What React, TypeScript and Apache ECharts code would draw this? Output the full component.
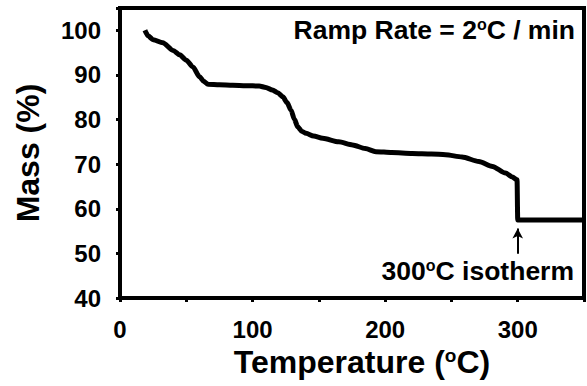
import React, { useEffect, useRef } from "react";
import * as echarts from "echarts";

const temperature = [18.8, 21.3, 25, 32.3, 40, 45, 50, 55, 60, 63, 66.4, 75, 85, 95, 105, 110, 115, 119, 122.8, 126, 129, 131.5, 134, 137, 140.4, 146, 152.9, 165, 175.4, 185, 193, 205, 220.5, 235, 245.6, 258, 270.7, 281, 290.8, 296, 299.5, 300, 300, 320, 350];
const mass = [100, 98.7, 97.9, 97.2, 95.5, 94.5, 93.3, 91.8, 89.6, 88.6, 87.9, 87.8, 87.7, 87.6, 87.5, 87.2, 86.6, 86.0, 85.1, 83.8, 82.1, 80.1, 78.4, 77.4, 76.9, 76.3, 75.8, 75.0, 74.3, 73.5, 72.8, 72.6, 72.4, 72.3, 72.1, 71.6, 70.6, 69.5, 68.0, 67.1, 66.5, 66.5, 57.5, 57.5, 57.5];
const xTickLabels = ["0", "100", "200", "300"];
const yTickLabels = ["40", "50", "60", "70", "80", "90", "100"];
const arrowFrom = [300, 49.9];
const arrowTo = [300, 55.6];

const FONT = "Liberation Sans";

export default function App() {
  const ref = useRef<HTMLDivElement>(null);
  useEffect(() => {
    if (!ref.current) return;
    const chart = echarts.init(ref.current, null, { renderer: "svg" });
    const data = temperature.map((t, i) => [t, mass[i]]);
    const rich = (size: number, supSize: number, lift: number) => ({
      n: { fontFamily: FONT, fontWeight: "bold", fontSize: size, color: "#000", fill: "#000" },
      sup: { fontFamily: FONT, fontWeight: "bold", fontSize: supSize, color: "#000", fill: "#000", verticalAlign: "top", padding: [0, 0, lift, 0] },
    });
    chart.setOption({
      animation: false,
      backgroundColor: "#fff",
      grid: {
        left: 120,
        right: 3,
        top: 8,
        bottom: 88,
        show: true,
        borderColor: "#000",
        borderWidth: 4,
        backgroundColor: "transparent",
      },
      xAxis: {
        type: "value",
        min: 0,
        max: 350,
        interval: 50,
        name: "{n|Temperature (}{sup|o}{n|C)}",
        nameLocation: "middle",
        nameGap: 44,
        nameTextStyle: {
          fontFamily: FONT,
          fontWeight: "bold",
          fontSize: 32,
          color: "#000",
          padding: [0, 0, 0, 20],
          rich: rich(32, 19, 12),
        },
        axisLine: { show: true, lineStyle: { color: "#000", width: 4 } },
        axisTick: { show: true, length: 4, lineStyle: { color: "#000", width: 3 } },
        splitLine: { show: false },
        axisLabel: {
          margin: 19,
          fontFamily: FONT,
          fontWeight: "bold",
          fontSize: 24,
          color: "#000",
          formatter: (v: number) => (xTickLabels.includes(String(v)) ? String(v) : ""),
        },
      },
      yAxis: {
        type: "value",
        min: 40,
        max: 105,
        interval: 10,
        name: "Mass (%)",
        nameLocation: "middle",
        nameGap: 76,
        nameTextStyle: { fontFamily: FONT, fontWeight: "bold", fontSize: 32, color: "#000" },
        axisLine: { show: true, lineStyle: { color: "#000", width: 4 } },
        axisTick: { show: true, length: 4, lineStyle: { color: "#000", width: 3 } },
        splitLine: { show: false },
        axisLabel: {
          margin: 19,
          fontFamily: FONT,
          fontWeight: "bold",
          fontSize: 24,
          color: "#000",
          formatter: (v: number) => (yTickLabels.includes(String(v)) ? String(v) : ""),
        },
      },
      series: [
        {
          type: "line",
          data,
          showSymbol: false,
          symbol: "none",
          smooth: 0.25,
          smoothMonotone: "x",
          lineStyle: { color: "#000", width: 5 },
          markLine: {
            silent: true,
            symbol: ["none", "arrow"],
            symbolSize: [8, 10],
            label: { show: false },
            lineStyle: { color: "#000", width: 2, type: "solid" },
            data: [[{ coord: arrowFrom }, { coord: arrowTo }]],
          },
        },
      ],
      graphic: [
        {
          type: "text",
          right: 12,
          top: 16,
          style: {
            text: "{n|Ramp Rate = 2}{sup|o}{n|C / min}",
            fontFamily: FONT,
            fontWeight: "bold",
            fontSize: 26.5,
            fill: "#000",
            rich: rich(26.5, 16, 10),
          },
        },
        {
          type: "text",
          right: 13,
          top: 257,
          style: {
            text: "{n|300}{sup|o}{n|C isotherm}",
            fontFamily: FONT,
            fontWeight: "bold",
            fontSize: 26.5,
            fill: "#000",
            rich: rich(26.5, 16, 10),
          },
        },
      ],
    });
    return () => chart.dispose();
  }, []);
  return <div ref={ref} style={{ width: 587, height: 386, position: "absolute", left: 0, top: 0 }} />;
}
